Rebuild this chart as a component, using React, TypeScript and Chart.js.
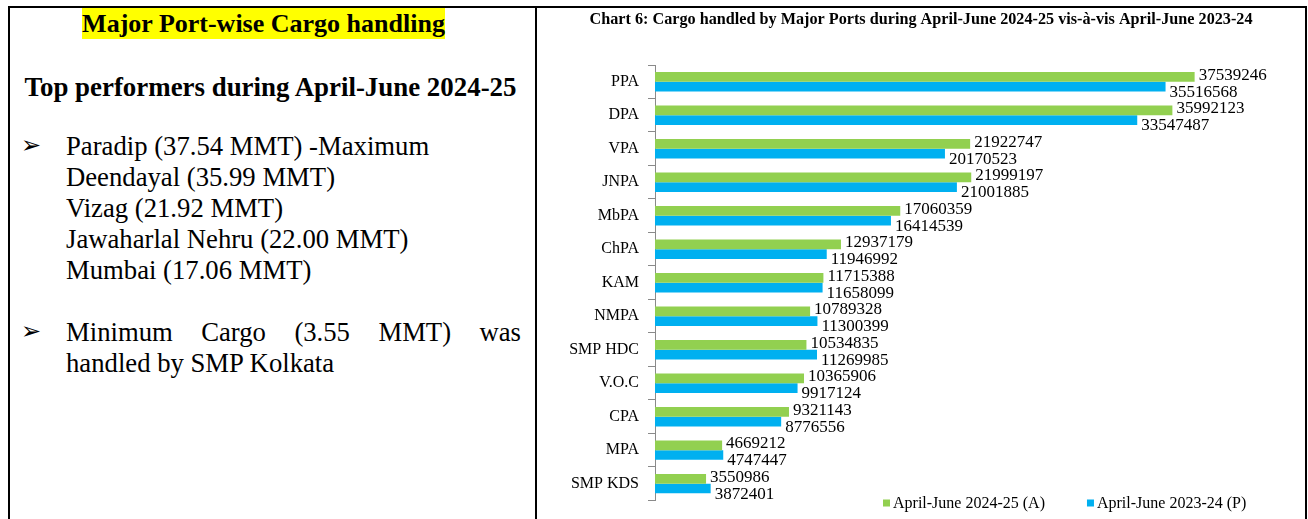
import React, { useEffect, useRef } from "react";
import { Chart, registerables } from "chart.js";

Chart.register(...registerables);

const ports = ["PPA", "DPA", "VPA", "JNPA", "MbPA", "ChPA", "KAM", "NMPA", "SMP HDC", "V.O.C", "CPA", "MPA", "SMP KDS"];
const cargo2024 = [37539246, 35992123, 21922747, 21999197, 17060359, 12937179, 11715388, 10789328, 10534835, 10365906, 9321143, 4669212, 3550986];
const cargo2023 = [35516568, 33547487, 20170523, 21001885, 16414539, 11946992, 11658099, 11300399, 11269985, 9917124, 8776556, 4747447, 3872401];
const seriesLabels = ["April-June 2024-25 (A)", "April-June 2023-24 (P)"];
const seriesColors = ["#92D050", "#00B0F0"];
const chartTitle = "Chart 6: Cargo handled by Major Ports during April-June 2024-25 vis-à-vis April-June 2023-24";
const xMax = 40000000;

const SERIF = '"Liberation Serif", "Times New Roman", serif';

const titlePlugin = {
  id: "titleText",
  afterDraw(chart: any) {
    const ctx = chart.ctx;
    ctx.save();
    ctx.font = `bold 16px ${SERIF}`;
    const w = ctx.measureText(chartTitle).width;
    const target = 663;
    const sx = target / w;
    ctx.translate(chart.width / 2, 16);
    ctx.scale(sx, 1);
    ctx.fillStyle = "#000";
    ctx.textAlign = "center";
    ctx.textBaseline = "alphabetic";
    ctx.fillText(chartTitle, 0, 0);
    ctx.restore();
  },
};

const labelPlugin = {
  id: "barValues",
  afterDatasetsDraw(chart: any) {
    const ctx = chart.ctx;
    ctx.save();
    ctx.font = `17px ${SERIF}`;
    ctx.fillStyle = "#000";
    ctx.textAlign = "left";
    ctx.textBaseline = "alphabetic";
    chart.data.datasets.forEach((ds: any, di: number) => {
      const meta = chart.getDatasetMeta(di);
      meta.data.forEach((el: any, i: number) => {
        const dx = di === 0 ? 4 : 4;
        const dy = di === 0 ? 3 : 10;
        ctx.fillText(String(ds.data[i]), el.x + dx, el.y + dy);
      });
    });
    ctx.restore();
  },
};

const legendPlugin = {
  id: "legendText",
  afterDraw(chart: any) {
    const ctx = chart.ctx;
    ctx.save();
    ctx.font = `16px ${SERIF}`;
    ctx.textAlign = "left";
    ctx.textBaseline = "middle";
    let x = chart.chartArea.left + 228;
    const y = 495;
    const box = 7;
    chart.data.datasets.forEach((ds: any) => {
      ctx.fillStyle = ds.backgroundColor;
      ctx.fillRect(x, y - box / 2, box, box);
      x += box + 3;
      ctx.fillStyle = "#000";
      ctx.fillText(ds.label, x, y + 1);
      x += ctx.measureText(ds.label).width + 42;
    });
    ctx.restore();
  },
};

function CargoChart() {
  const ref = useRef<HTMLCanvasElement | null>(null);
  useEffect(() => {
    if (!ref.current) return;
    const chart = new Chart(ref.current, {
      type: "bar",
      data: {
        labels: ports,
        datasets: [
          {
            label: seriesLabels[0],
            data: cargo2024,
            backgroundColor: seriesColors[0],
            borderWidth: 0,
            categoryPercentage: 0.58,
            barPercentage: 1,
          },
          {
            label: seriesLabels[1],
            data: cargo2023,
            backgroundColor: seriesColors[1],
            borderWidth: 0,
            categoryPercentage: 0.58,
            barPercentage: 1,
          },
        ],
      },
      options: {
        indexAxis: "y",
        animation: false,
        responsive: false,
        maintainAspectRatio: false,
        layout: { padding: { top: 57, right: 75, bottom: 6, left: 0 } },
        plugins: {
          legend: { display: false },
          title: { display: false },
          tooltip: { enabled: false },
        },
        scales: {
          x: { display: false, min: 0, max: xMax },
          y: {
            afterFit: (s: any) => {
              s.width = 118;
            },
            grid: {
              offset: true,
              drawOnChartArea: false,
              tickLength: 7,
              color: "#8a8a8a",
            },
            border: { color: "#8a8a8a", width: 1 },
            ticks: {
              color: "#000",
              font: { family: SERIF, size: 16 },
              padding: 9,
            },
          },
        },
      },
      plugins: [titlePlugin, labelPlugin, legendPlugin],
    } as any);
    return () => chart.destroy();
  }, []);
  return <canvas ref={ref} width={768} height={511} style={{ display: "block", width: 768, height: 511 }} />;
}

export default function App() {
  const textStyle: React.CSSProperties = {
    fontFamily: SERIF,
    fontSize: 26.7,
    lineHeight: "31px",
    color: "#000",
    whiteSpace: "nowrap",
  };
  const bulletStyle: React.CSSProperties = {
    ...textStyle,
    position: "absolute",
    left: 11,
    fontFamily: '"DejaVu Sans", sans-serif',
    fontSize: 24,
  };
  return (
    <div
      style={{
        position: "absolute",
        left: 8,
        top: 6,
        width: 1295,
        height: 511,
        borderTop: "2px solid #000",
        borderLeft: "2px solid #000",
        borderRight: "2px solid #000",
        overflow: "hidden",
        background: "#fff",
      }}
    >
      <div style={{ position: "absolute", left: 0, top: 0, width: 525, height: 511 }}>
        <div style={{ ...textStyle, fontSize: 26, position: "absolute", left: 0, top: 0, width: 525, paddingRight: 18, boxSizing: "border-box", textAlign: "center", fontWeight: "bold" }}>
          <span style={{ background: "#FFFF00", padding: "1px 0" }}>Major Port-wise Cargo handling</span>
        </div>
        <div style={{ ...textStyle, fontSize: 26.9, position: "absolute", left: 0, top: 64, width: 525, paddingRight: 4, boxSizing: "border-box", textAlign: "center", fontWeight: "bold" }}>
          Top performers during April-June 2024-25
        </div>
        <div style={{ ...bulletStyle, top: 122 }}>➢</div>
        <div style={{ ...textStyle, position: "absolute", left: 56, top: 123, width: 455 }}>
          Paradip (37.54 MMT) -Maximum
          <br />
          Deendayal (35.99 MMT)
          <br />
          Vizag (21.92 MMT)
          <br />
          Jawaharlal Nehru (22.00 MMT)
          <br />
          Mumbai (17.06 MMT)
        </div>
        <div style={{ ...bulletStyle, top: 308 }}>➢</div>
        <div style={{ ...textStyle, position: "absolute", left: 56, top: 309, width: 455, whiteSpace: "normal", textAlign: "justify", textAlignLast: "justify" }}>
          Minimum Cargo (3.55 MMT) was
        </div>
        <div style={{ ...textStyle, position: "absolute", left: 56, top: 340, width: 455 }}>
          handled by SMP Kolkata
        </div>
      </div>
      <div style={{ position: "absolute", left: 525, top: 0, width: 2, height: 511, background: "#000" }} />
      <div style={{ position: "absolute", left: 527, top: 0, width: 768, height: 511 }}>
        <CargoChart />
      </div>
    </div>
  );
}
